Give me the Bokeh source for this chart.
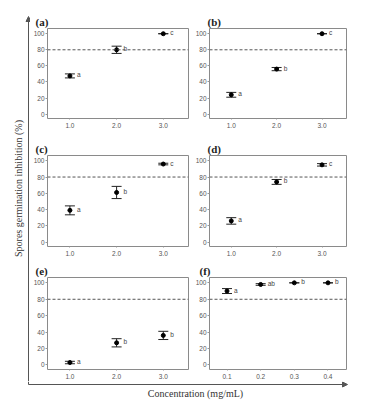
import math
from bokeh.plotting import figure
from bokeh.models import (Range1d, ColumnDataSource, Whisker, TeeHead, Span, Label, Title,
                          Arrow, NormalHead, FixedTicker, NumeralTickFormatter)
from bokeh.layouts import row, column
from bokeh.embed import file_html
from bokeh.resources import INLINE
from bokeh.core.properties import value

# ---------------- data ----------------
conc = [1.0, 2.0, 3.0]
conc_f = [0.1, 0.2, 0.3, 0.4]

a_mean = [47.5, 80, 100]
a_err = [2.5, 4.5, 0]
a_let = ["a", "b", "c"]

b_mean = [24, 56, 100]
b_err = [3, 2, 0]
b_let = ["a", "b", "c"]

c_mean = [39, 61, 96]
c_err = [5.5, 7.5, 1]
c_let = ["a", "b", "c"]

d_mean = [26, 74, 95]
d_err = [4, 3, 1.5]
d_let = ["a", "b", "c"]

e_mean = [3, 27, 36]
e_err = [1.5, 5, 5]
e_let = ["a", "b", "b"]

f_mean = [90, 98, 100, 100]
f_err = [3, 1, 0, 0]
f_let = ["a", "ab", "b", "b"]

y_ticks = [0, 20, 40, 60, 80, 100]
threshold = 80
panel_tags = ["(a)", "(b)", "(c)", "(d)", "(e)", "(f)"]
x_title = "Concentration (mg/mL)"
y_title = "Spores germination inhibition (%)"

SERIF = "Liberation Serif"
SANS = "Liberation Sans"


def panel(x, mean, err, letters, xr, tag, w, h, bl, br, bt, bb, tag_dx):
    p = figure(width=w, height=h, x_range=Range1d(*xr), y_range=Range1d(-5.5, 106.5),
               output_backend="svg", toolbar_location=None,
               min_border_left=bl, min_border_right=br, min_border_top=bt, min_border_bottom=bb)
    p.grid.visible = False
    p.outline_line_color = "#8a8a8a"
    p.outline_line_width = 1
    p.background_fill_color = "white"
    p.border_fill_color = "white"

    p.xaxis.ticker = FixedTicker(ticks=list(x))
    p.xaxis.formatter = NumeralTickFormatter(format="0.0")
    p.yaxis.ticker = FixedTicker(ticks=y_ticks)
    p.axis.axis_line_color = None
    p.axis.major_tick_line_color = "#999999"
    p.axis.major_tick_in = 0
    p.yaxis.major_tick_out = 2
    p.xaxis.major_tick_out = 1
    p.axis.minor_tick_line_color = None
    p.axis.major_label_text_font_size = "6.5px"
    p.axis.major_label_text_color = "#555555"
    p.axis.major_label_text_font = SANS
    p.yaxis.major_label_standoff = 1
    p.xaxis.major_label_standoff = 3

    src = ColumnDataSource(dict(
        x=list(x), mean=list(mean),
        upper=[m + e for m, e in zip(mean, err)],
        lower=[m - e for m, e in zip(mean, err)],
        letter=list(letters)))

    p.add_layout(Span(location=threshold, dimension="width", line_dash="3 2",
                      line_color="#555555", line_width=1))

    wh = Whisker(base="x", upper="upper", lower="lower", source=src,
                 line_color="#222222", line_width=1,
                 upper_head=TeeHead(size=10, line_color="#222222", line_width=1),
                 lower_head=TeeHead(size=10, line_color="#222222", line_width=1))
    p.add_layout(wh)
    p.scatter("x", "mean", source=src, size=4, color="black")
    p.text("x", "mean", text="letter", source=src, x_offset=7, y_offset=-1,
           text_font_size="6.5px", text_baseline="middle", text_align="left",
           text_color="#444444", text_font=value(SANS))

    p.add_layout(Title(text=tag, align="left", offset=tag_dx, standoff=2,
                       text_font=SERIF, text_font_style="bold", text_font_size="11px",
                       text_color="#222222"), "above")
    return p


xr_c = (0.52, 3.54)
xr_f = (0.048, 0.455)

W1, W2 = 162, 166
H1, H2, H3 = 136, 124, 121

pa = panel(conc, a_mean, a_err, a_let, xr_c, panel_tags[0], W1, H1, 15, 4, 28, 18, -12)
pb = panel(conc, b_mean, b_err, b_let, xr_c, panel_tags[1], W2, H1, 14, 12, 28, 18, -2)
pc = panel(conc, c_mean, c_err, c_let, xr_c, panel_tags[2], W1, H2, 15, 4, 19, 14, -12)
pd = panel(conc, d_mean, d_err, d_let, xr_c, panel_tags[3], W2, H2, 14, 12, 19, 14, -2)
pe = panel(conc, e_mean, e_err, e_let, xr_c, panel_tags[4], W1, H3, 15, 4, 17, 12, -12)
pf = panel(conc_f, f_mean, f_err, f_let, xr_f, panel_tags[5], W2, H3, 14, 12, 17, 12, -10)

# left strip: vertical axis arrow + y title
LW = 30
LH = H1 + H2 + H3
left = figure(width=LW, height=LH, x_range=Range1d(0, LW), y_range=Range1d(0, LH),
              output_backend="svg", toolbar_location=None, min_border=0,
              x_axis_location=None, y_axis_location=None)
left.grid.visible = False
left.outline_line_color = None
left.add_layout(Arrow(end=NormalHead(size=5, fill_color="#555555", line_color="#555555"),
                      x_start=28, y_start=0, x_end=28, y_end=LH - 16,
                      line_color="#555555", line_width=1))
left.add_layout(Label(x=18, y=LH - 188, text=y_title, angle=math.pi / 2,
                      text_font=SERIF, text_font_size="10px", text_align="center",
                      text_baseline="middle", text_color="#333333"))

# bottom strip: horizontal axis arrow + x title
BW = LW + W1 + W2
BH = 22
bottom = figure(width=BW, height=BH, x_range=Range1d(0, BW), y_range=Range1d(0, BH),
                output_backend="svg", toolbar_location=None, min_border=0,
                x_axis_location=None, y_axis_location=None)
bottom.grid.visible = False
bottom.outline_line_color = None
bottom.segment(x0=[28], y0=[BH], x1=[28], y1=[BH - 3], line_color="#555555", line_width=1)
bottom.add_layout(Arrow(end=NormalHead(size=5, fill_color="#555555", line_color="#555555"),
                        x_start=28, y_start=BH - 3, x_end=347, y_end=BH - 3,
                        line_color="#555555", line_width=1))
bottom.add_layout(Label(x=195, y=BH - 12, text=x_title, text_font=SERIF,
                        text_font_size="10px", text_align="center", text_baseline="middle",
                        text_color="#333333"))

layout = column(row(left, column(pa, pc, pe), column(pb, pd, pf)), bottom)

open("out.html", "w").write(file_html(layout, INLINE))
